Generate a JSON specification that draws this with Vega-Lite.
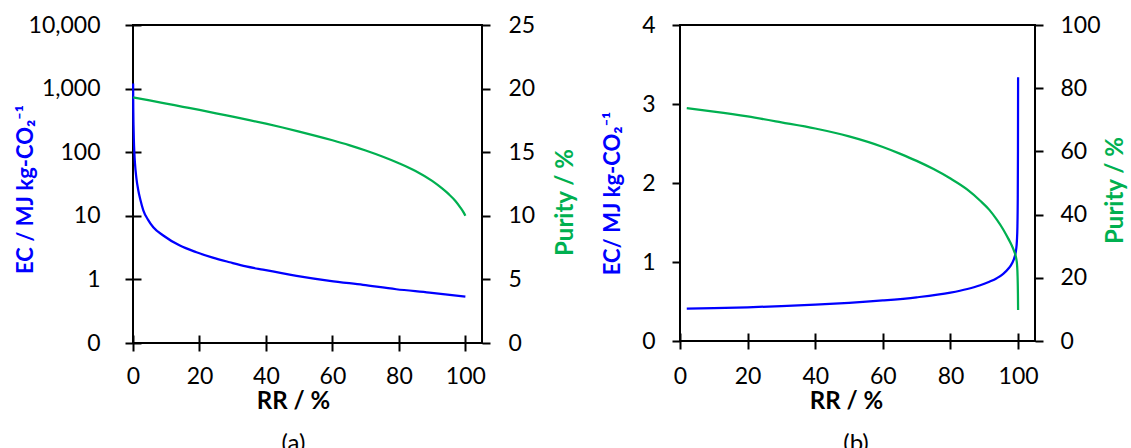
{
  "$schema": "https://vega.github.io/schema/vega-lite/v6.json",
  "background": "white",
  "padding": {"left": 13, "top": 3, "right": 0, "bottom": 0},
  "autosize": {"type": "pad"},
  "config": {
    "view": {"stroke": "black", "strokeWidth": 2},
    "axis": {"grid": false, "domain": false, "labelFlush": false, "labelOverlap": false, "tickColor": "black", "tickWidth": 2, "labelColor": "black", "labelFont": "Lato", "labelFontSize": 23, "titleFont": "Lato", "titleFontSize": 24, "titleFontWeight": "bold", "titleColor": "black"},
    "title": {"font": "Lato", "fontSize": 24, "fontWeight": "normal", "color": "black", "frame": "group"}
  },
  "datasets": {
    "a_ec": [
      {"RR": 0.033, "EC": 1200}, {"RR": 0.08, "EC": 500}, {"RR": 0.15, "EC": 270}, {"RR": 0.25, "EC": 160},
      {"RR": 0.4, "EC": 100}, {"RR": 0.6, "EC": 66}, {"RR": 1, "EC": 40}, {"RR": 1.6, "EC": 25},
      {"RR": 2.2, "EC": 18}, {"RR": 3.1, "EC": 12.2}, {"RR": 4.5, "EC": 8.7}, {"RR": 6.1, "EC": 6.6},
      {"RR": 9.1, "EC": 4.9}, {"RR": 14.1, "EC": 3.4}, {"RR": 19.1, "EC": 2.67}, {"RR": 24, "EC": 2.2},
      {"RR": 29.1, "EC": 1.86}, {"RR": 34, "EC": 1.6}, {"RR": 39.1, "EC": 1.42}, {"RR": 49.2, "EC": 1.14},
      {"RR": 59.2, "EC": 0.95}, {"RR": 69.2, "EC": 0.82}, {"RR": 79.2, "EC": 0.7}, {"RR": 89.2, "EC": 0.62},
      {"RR": 100, "EC": 0.535}
    ],
    "a_pur": [
      {"RR": 0, "Purity": 19.3}, {"RR": 5, "Purity": 19.07}, {"RR": 10, "Purity": 18.82}, {"RR": 15, "Purity": 18.57},
      {"RR": 20, "Purity": 18.32}, {"RR": 25, "Purity": 18.06}, {"RR": 30, "Purity": 17.79}, {"RR": 35, "Purity": 17.52},
      {"RR": 40, "Purity": 17.24}, {"RR": 45, "Purity": 16.94}, {"RR": 50, "Purity": 16.62}, {"RR": 55, "Purity": 16.29},
      {"RR": 60, "Purity": 15.94}, {"RR": 65, "Purity": 15.56}, {"RR": 70, "Purity": 15.13}, {"RR": 75, "Purity": 14.66},
      {"RR": 80, "Purity": 14.13}, {"RR": 85, "Purity": 13.52}, {"RR": 90, "Purity": 12.74}, {"RR": 93, "Purity": 12.15},
      {"RR": 95, "Purity": 11.7}, {"RR": 97, "Purity": 11.17}, {"RR": 98.5, "Purity": 10.65}, {"RR": 99.5, "Purity": 10.25},
      {"RR": 100, "Purity": 10.0}
    ],
    "b_ec": [
      {"RR": 2, "EC": 0.41}, {"RR": 10, "EC": 0.416}, {"RR": 20, "EC": 0.427}, {"RR": 30, "EC": 0.441},
      {"RR": 40, "EC": 0.459}, {"RR": 50, "EC": 0.482}, {"RR": 60, "EC": 0.513}, {"RR": 70, "EC": 0.553},
      {"RR": 80, "EC": 0.612}, {"RR": 85, "EC": 0.658}, {"RR": 88.8, "EC": 0.705}, {"RR": 91.5, "EC": 0.75},
      {"RR": 93.7, "EC": 0.795}, {"RR": 95.6, "EC": 0.85}, {"RR": 97.1, "EC": 0.915}, {"RR": 98.3, "EC": 0.99},
      {"RR": 99.0, "EC": 1.07}, {"RR": 99.4, "EC": 1.15}, {"RR": 99.65, "EC": 1.27}, {"RR": 99.8, "EC": 1.45},
      {"RR": 99.9, "EC": 1.8}, {"RR": 99.96, "EC": 2.4}, {"RR": 100, "EC": 3.34}
    ],
    "b_pur": [
      {"RR": 2, "Purity": 73.7}, {"RR": 10, "Purity": 72.6}, {"RR": 20, "Purity": 71.05}, {"RR": 30, "Purity": 69.2},
      {"RR": 40, "Purity": 67.25}, {"RR": 50, "Purity": 64.75}, {"RR": 60, "Purity": 61.4}, {"RR": 65, "Purity": 59.3},
      {"RR": 70, "Purity": 57.0}, {"RR": 75, "Purity": 54.4}, {"RR": 80, "Purity": 51.4}, {"RR": 85, "Purity": 47.9},
      {"RR": 88.8, "Purity": 44.4}, {"RR": 91.5, "Purity": 41.5}, {"RR": 93.7, "Purity": 38.4}, {"RR": 95.6, "Purity": 35.3},
      {"RR": 97.1, "Purity": 32.4}, {"RR": 98.1, "Purity": 30.3}, {"RR": 98.9, "Purity": 28.2}, {"RR": 99.4, "Purity": 26.4},
      {"RR": 99.7, "Purity": 24}, {"RR": 99.85, "Purity": 20.5}, {"RR": 99.95, "Purity": 15}, {"RR": 100, "Purity": 9.8}
    ]
  },
  "spacing": 22,
  "hconcat": [
    {
      "width": 349,
      "height": 318,
      "title": {"text": "(a)", "orient": "bottom", "offset": 18, "dx": -14},
      "layer": [
        {
          "data": {"name": "a_ec"},
          "mark": {"type": "line", "color": "#0000FF", "strokeWidth": 2.25, "interpolate": "monotone"},
          "encoding": {
            "x": {"field": "RR", "type": "quantitative", "scale": {"domain": [0, 105], "nice": false, "zero": false},
              "axis": {"orient": "bottom", "values": [0, 20, 40, 60, 80, 100], "offset": -8, "tickSize": 16, "labelPadding": 14,
                "title": "RR / %", "titleX": 160, "titleY": 66.5, "titleAlign": "center", "titleBaseline": "middle"}},
            "y": {"field": "EC", "type": "quantitative", "scale": {"type": "log", "domain": [0.1, 10000], "nice": false},
              "axis": {"orient": "left", "values": [0.1, 1, 10, 100, 1000, 10000],
                "labelExpr": "datum.value < 1 ? '0' : format(datum.value, ',')",
                "offset": -8, "tickSize": 16, "labelPadding": 25,
                "title": "EC / MJ kg-CO₂⁻¹", "titleFontSize": 22, "titleColor": "#0000FF", "titleX": -116, "titleY": 164,
                "titleAngle": -90, "titleAlign": "center", "titleBaseline": "middle"}}
          }
        },
        {
          "data": {"name": "a_pur"},
          "mark": {"type": "line", "color": "#00B050", "strokeWidth": 2.25, "interpolate": "monotone"},
          "encoding": {
            "x": {"field": "RR", "type": "quantitative", "scale": {"domain": [0, 105], "nice": false, "zero": false},
              "axis": {"orient": "top", "values": [0], "labels": false, "tickSize": 21, "tickOpacity": 0, "title": null}},
            "y": {"field": "Purity", "type": "quantitative", "scale": {"domain": [0, 25], "nice": false},
              "axis": {"orient": "right", "values": [0, 5, 10, 15, 20, 25], "tickSize": 8, "labelPadding": 18,
                "title": "Purity / %", "titleColor": "#00B050", "titleX": 83, "titleY": 177,
                "titleAngle": -90, "titleAlign": "center", "titleBaseline": "middle"}}
          }
        }
      ],
      "resolve": {"scale": {"x": "independent", "y": "independent"}}
    },
    {
      "width": 355,
      "height": 316,
      "title": {"text": "(b)", "orient": "bottom", "offset": 18, "dx": -1.5},
      "layer": [
        {
          "data": {"name": "b_ec"},
          "mark": {"type": "line", "color": "#0000FF", "strokeWidth": 2.25, "interpolate": "monotone"},
          "encoding": {
            "x": {"field": "RR", "type": "quantitative", "scale": {"domain": [0, 105], "nice": false, "zero": false},
              "axis": {"orient": "bottom", "values": [0, 20, 40, 60, 80, 100], "offset": -8, "tickSize": 16, "labelPadding": 16,
                "title": "RR / %", "titleX": 166, "titleY": 68.5, "titleAlign": "center", "titleBaseline": "middle"}},
            "y": {"field": "EC", "type": "quantitative", "scale": {"domain": [0, 4], "nice": false},
              "axis": {"orient": "left", "values": [0, 1, 2, 3, 4], "tickSize": 8, "labelPadding": 17,
                "title": "EC/ MJ kg-CO₂⁻¹", "titleFontSize": 22, "titleColor": "#0000FF", "titleX": -68, "titleY": 168,
                "titleAngle": -90, "titleAlign": "center", "titleBaseline": "middle"}}
          }
        },
        {
          "data": {"name": "b_pur"},
          "mark": {"type": "line", "color": "#00B050", "strokeWidth": 2.25, "interpolate": "monotone"},
          "encoding": {
            "x": {"field": "RR", "type": "quantitative"},
            "y": {"field": "Purity", "type": "quantitative", "scale": {"domain": [0, 100], "nice": false},
              "axis": {"orient": "right", "values": [0, 20, 40, 60, 80, 100], "tickSize": 8, "labelPadding": 17,
                "title": "Purity / %", "titleColor": "#00B050", "titleX": 80, "titleY": 165,
                "titleAngle": -90, "titleAlign": "center", "titleBaseline": "middle"}}
          }
        }
      ],
      "resolve": {"scale": {"y": "independent"}}
    }
  ]
}
